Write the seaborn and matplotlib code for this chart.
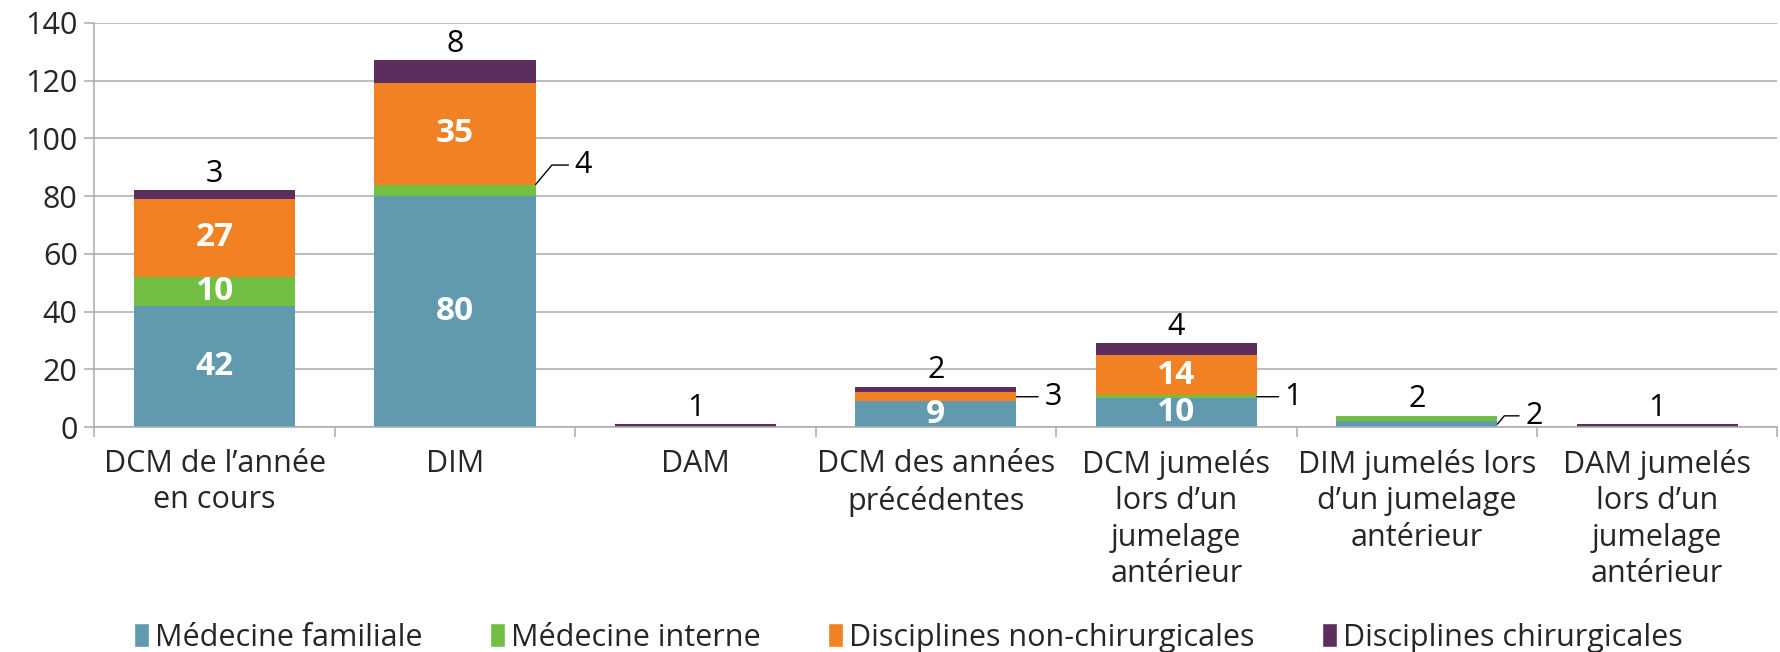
import matplotlib
matplotlib.use("Agg")
import matplotlib.pyplot as plt
from matplotlib.patches import Patch
import numpy as np
import seaborn as sns

# --- data ---
categories = [
    "DCM de l’année\nen cours",
    "DIM",
    "DAM",
    "DCM des années\nprécédentes",
    "DCM jumelés\nlors d’un\njumelage\nantérieur",
    "DIM jumelés lors\nd’un jumelage\nantérieur",
    "DAM jumelés\nlors d’un\njumelage\nantérieur",
]
series_names = ["Médecine familiale", "Médecine interne",
                "Disciplines non-chirurgicales", "Disciplines chirurgicales"]
med_familiale = [42, 80, 0, 9, 10, 2, 0]
med_interne = [10, 4, 0, 0, 1, 2, 0]
non_chir = [27, 35, 0, 3, 14, 0, 0]
chir = [3, 8, 1, 2, 4, 0, 1]
yticks = [0, 20, 40, 60, 80, 100, 120, 140]

# --- style ---
colors = ["#6199ae", "#72bf44", "#f28124", "#5c2e5e"]
# label placement per series: "in" = white inside, "top" = above bar, "right" = with leader
placement = [
    ["in", "in", None, "in", "in", "right", None],
    ["in", "right", None, None, "right", "top", None],
    ["in", "in", None, "right", "in", None, None],
    ["top", "top", "top", "top", "top", None, "top"],
]
# leader offsets (points) for "right" labels: (dx, dy)
leader_offsets = {(0, 5): (20, 6), (1, 1): (28, 14), (1, 4): (20, 0), (2, 3): (20, 0)}
FS = 22

sns.set_theme(style="white")
plt.rcParams["font.family"] = ["Open Sans", "DejaVu Sans"]

fig, ax = plt.subplots(figsize=(17.81, 6.52), dpi=100)
fig.subplots_adjust(left=0.053, right=0.998, top=0.965, bottom=0.345)

values = np.array([med_familiale, med_interne, non_chir, chir], dtype=float)
cum = np.cumsum(values, axis=0)
bar_w = 0.67

# draw cumulative totals from the top layer down so lower layers sit in front
for i in range(len(series_names) - 1, -1, -1):
    sns.barplot(x=categories, y=cum[i], color=colors[i], saturation=1,
                width=bar_w, linewidth=0, ax=ax, zorder=2)

xs = np.arange(len(categories))
for i in range(len(series_names)):
    for j in range(len(categories)):
        mode = placement[i][j]
        v = values[i, j]
        if mode is None:
            continue
        bottom = cum[i, j] - v
        if mode == "in":
            ax.text(xs[j], bottom + v / 2, f"{int(v)}", ha="center", va="center",
                    color="white", fontsize=24, fontweight="bold", zorder=4)
        elif mode == "top":
            ax.annotate(f"{int(v)}", xy=(xs[j], cum[:, j].max()), xytext=(0, 1),
                        textcoords="offset points", ha="center", va="bottom",
                        fontsize=FS, color="black")
        else:
            dx, dy = leader_offsets[(i, j)]
            y_anchor = bottom + v / 2 if dy == 0 else cum[i, j] - min(v, 2) / 2
            if (i, j) == (1, 1):
                y_anchor = cum[i, j]
            style = "arc3" if dy == 0 else "angle,angleA=0,angleB=50,rad=0"
            ax.annotate(f"{int(v)}", xy=(xs[j] + bar_w / 2, y_anchor),
                        xytext=(dx, dy), textcoords="offset points",
                        ha="left", va="center", fontsize=FS, color="black",
                        arrowprops=dict(arrowstyle="-", color="black", lw=1,
                                        shrinkA=2, shrinkB=0,
                                        connectionstyle=style))

ax.set_ylim(0, 140)
ax.set_xlim(-0.5, len(categories) - 0.5)
ax.set_yticks(yticks)
ax.yaxis.grid(True, color="#ababab", linewidth=1.1, zorder=0)
ax.set_axisbelow(True)
for s in ["top", "right"]:
    ax.spines[s].set_visible(False)
for s in ["left", "bottom"]:
    ax.spines[s].set_color("#ababab")
    ax.spines[s].set_linewidth(1.1)

ax.tick_params(axis="y", which="major", length=7, width=1.1, color="#ababab",
               labelsize=FS, pad=5, left=True)
ax.set_xticks(xs)
ax.set_xticklabels(categories, fontsize=FS, linespacing=1.27)
ax.tick_params(axis="x", which="major", length=0, pad=16)
ax.set_xticks(np.arange(-0.5, len(categories)), minor=True)
ax.tick_params(axis="x", which="minor", length=7, width=1.1, color="#ababab",
               bottom=True)
ax.set_xlabel("")
ax.set_ylabel("")

handles = [Patch(facecolor=c, label=n) for c, n in zip(colors, series_names)]
fig.legend(handles=handles, loc="center", bbox_to_anchor=(0.51, 0.022), ncol=4,
           frameon=False, fontsize=FS, handlelength=0.5, handleheight=0.8,
           handletextpad=0.2, columnspacing=2.2)

fig.savefig("out.png", dpi=100)
